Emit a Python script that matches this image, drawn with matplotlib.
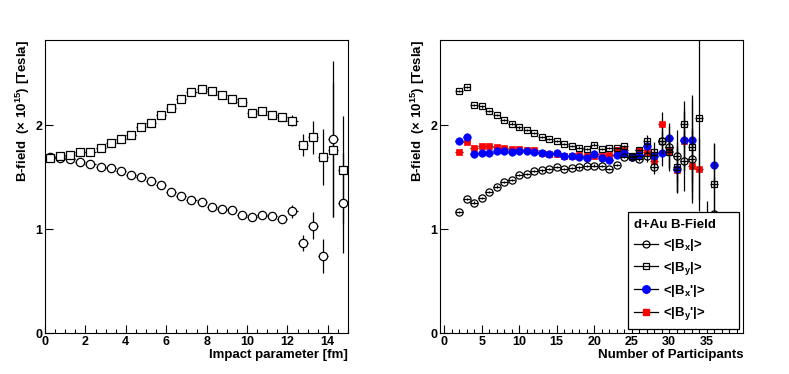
import numpy as np
import matplotlib
matplotlib.use("Agg")
import matplotlib.pyplot as plt
from matplotlib.lines import Line2D
from matplotlib.ticker import MultipleLocator

plt.rcParams['font.family'] = ['Liberation Sans', 'DejaVu Sans']
plt.rcParams['font.weight'] = 'bold'
plt.rcParams['mathtext.fontset'] = 'custom'
plt.rcParams['mathtext.rm'] = 'Liberation Sans:bold'
plt.rcParams['mathtext.bf'] = 'Liberation Sans:bold'
plt.rcParams['mathtext.default'] = 'bf'

# --- left panel: vs impact parameter (bins of 0.5 fm) ---
b_centers = [0.25, 0.75, 1.25, 1.75, 2.25, 2.75, 3.25, 3.75, 4.25, 4.75,
             5.25, 5.75, 6.25, 6.75, 7.25, 7.75, 8.25, 8.75, 9.25, 9.75,
             10.25, 10.75, 11.25, 11.75, 12.25, 12.75, 13.25, 13.75, 14.25, 14.75]
bx_b = [1.69, 1.68, 1.67, 1.65, 1.625, 1.60, 1.585, 1.56, 1.52, 1.50,
        1.46, 1.42, 1.36, 1.32, 1.28, 1.26, 1.21, 1.19, 1.18, 1.14,
        1.115, 1.135, 1.13, 1.10, 1.17, 0.865, 1.03, 0.74, 1.87, 1.25]
bx_b_err = [0.005, 0.005, 0.005, 0.005, 0.005, 0.005, 0.005, 0.005, 0.005, 0.005,
            0.005, 0.005, 0.005, 0.005, 0.005, 0.005, 0.005, 0.01, 0.01, 0.01,
            0.01, 0.015, 0.015, 0.02, 0.06, 0.08, 0.13, 0.16, 0.75, 0.48]
by_b = [1.68, 1.705, 1.71, 1.74, 1.745, 1.78, 1.83, 1.865, 1.91, 1.98,
        2.02, 2.10, 2.17, 2.25, 2.315, 2.345, 2.33, 2.29, 2.25, 2.22,
        2.12, 2.14, 2.10, 2.08, 2.045, 1.81, 1.885, 1.695, 1.765, 1.57]
by_b_err = [0.005, 0.005, 0.005, 0.005, 0.005, 0.005, 0.005, 0.005, 0.005, 0.005,
            0.005, 0.005, 0.005, 0.005, 0.005, 0.005, 0.005, 0.01, 0.01, 0.01,
            0.01, 0.015, 0.02, 0.03, 0.05, 0.11, 0.16, 0.27, 0.65, 0.52]

# --- right panel: vs number of participants ---
npart_bx = [2, 3, 4, 5, 6, 7, 8, 9, 10, 11, 12, 13, 14, 15, 16, 17, 18, 19,
            20, 21, 22, 23, 24, 25, 26, 27, 28, 29, 30, 31, 32, 33, 35, 36]
bx_n = [1.163, 1.29, 1.256, 1.30, 1.356, 1.41, 1.45, 1.47, 1.52, 1.53, 1.558,
        1.564, 1.574, 1.596, 1.58, 1.59, 1.593, 1.603, 1.612, 1.603, 1.58,
        1.62, 1.69, 1.69, 1.67, 1.70, 1.60, 1.845, 1.79, 1.70, 1.66, 1.67,
        0.95, 1.15]
bx_n_err = [0.01] * 25 + [0.05, 0.07, 0.1, 0.2, 0.25, 0.29, 0.3, 0.32, 0.35]

npart_by = [2, 3, 4, 5, 6, 7, 8, 9, 10, 11, 12, 13, 14, 15, 16, 17, 18, 19,
            20, 21, 22, 23, 24, 25, 26, 27, 28, 29, 30, 31, 32, 33, 34, 36]
by_n = [2.33, 2.365, 2.19, 2.18, 2.14, 2.10, 2.05, 2.016, 1.978, 1.955, 1.926,
        1.89, 1.87, 1.85, 1.817, 1.80, 1.785, 1.77, 1.814, 1.77, 1.78, 1.78,
        1.795, 1.70, 1.76, 1.85, 1.74, 1.85, 1.74, 1.60, 2.01, 1.79, 2.07, 1.43]
by_n_err = [0.01] * 25 + [0.06, 0.1, 0.13, 0.18, 0.24, 0.22, 0.5, 0.9, 0.4]

npart_bxp = [2, 3, 4, 5, 6, 7, 8, 9, 10, 11, 12, 13, 14, 15, 16, 17, 18, 19,
             20, 21, 22, 23, 24, 25, 26, 27, 28, 29, 30, 31, 32, 33, 36]
bxp_n = [1.85, 1.89, 1.72, 1.734, 1.734, 1.747, 1.747, 1.744, 1.753, 1.747,
         1.74, 1.728, 1.72, 1.728, 1.70, 1.70, 1.69, 1.683, 1.718, 1.686,
         1.667, 1.71, 1.737, 1.695, 1.71, 1.795, 1.70, 1.73, 1.88, 1.58,
         1.856, 1.856, 1.615]
bxp_n_err = [0.01] * 25 + [0.05, 0.07, 0.12, 0.14, 0.22, 0.3, 0.4, 0.2]

npart_byp = [2, 3, 4, 5, 6, 7, 8, 9, 10, 11, 12, 13, 14, 15, 16, 17, 18, 19,
             20, 21, 22, 23, 24, 25, 26, 27, 28, 29, 30, 31, 32, 33, 34]
byp_n = [1.744, 1.84, 1.78, 1.80, 1.795, 1.79, 1.78, 1.775, 1.772, 1.766,
         1.76, 1.73, 1.72, 1.72, 1.705, 1.705, 1.71, 1.708, 1.70, 1.708,
         1.71, 1.76, 1.766, 1.695, 1.763, 1.74, 1.657, 2.01, 1.756, 1.565,
         1.85, 1.606, 1.58]
byp_n_err = [0.01] * 25 + [0.05, 0.08, 0.12, 0.17, 0.22, 0.28, 0.35, 0.3]

ylabel = r"B-field  ($\times$ 10$^{15}$) [Tesla]"

fig = plt.figure(figsize=(7.89, 3.74), dpi=100)
W, H = 789.0, 374.0
ax1 = fig.add_axes([45 / W, 1 - 333 / H, 303 / W, 293 / H])
ax2 = fig.add_axes([440 / W, 1 - 333 / H, 303 / W, 293 / H])

for ax in (ax1, ax2):
    ax.set_ylim(0, 2.82)
    ax.yaxis.set_major_locator(MultipleLocator(1))
    ax.tick_params(axis='both', which='both', direction='in', top=False,
                   right=False, labelsize=9, pad=2, width=0.8)
    ax.tick_params(axis='y', which='major', length=6)
    ax.tick_params(axis='x', which='major', length=6)
    ax.tick_params(axis='x', which='minor', length=3)
    for s in ax.spines.values():
        s.set_linewidth(0.8)
    for lab in ax.get_xticklabels() + ax.get_yticklabels():
        lab.set_fontweight('bold')

# left panel
ax1.set_xlim(0, 15)
ax1.xaxis.set_major_locator(MultipleLocator(2))
ax1.xaxis.set_minor_locator(MultipleLocator(0.5))
ax1.errorbar(b_centers, bx_b, yerr=bx_b_err, xerr=0.25, fmt='o', ms=6,
             mfc='white', mec='black', mew=0.9, ecolor='black', elinewidth=0.9,
             capsize=0)
ax1.errorbar(b_centers, by_b, yerr=by_b_err, xerr=0.25, fmt='s', ms=6,
             mfc='white', mec='black', mew=0.9, ecolor='black', elinewidth=0.9,
             capsize=0)

# right panel
ax2.set_xlim(-0.56, 39.84)
ax2.xaxis.set_major_locator(MultipleLocator(5))
ax2.xaxis.set_minor_locator(MultipleLocator(1))
ax2.errorbar(npart_byp, byp_n, yerr=byp_n_err, xerr=0.5, fmt='s', ms=5,
             mfc='red', mec='red', mew=0.5, ecolor='black', elinewidth=0.9,
             capsize=0, zorder=2)
ax2.errorbar(npart_bxp, bxp_n, yerr=bxp_n_err, xerr=0.5, fmt='o', ms=5.4,
             mfc='blue', mec='blue', mew=0.5, ecolor='black', elinewidth=0.9,
             capsize=0, zorder=2.2)
ax2.errorbar(npart_bx, bx_n, yerr=bx_n_err, xerr=0.5, fmt='o', ms=5.2,
             mfc='none', mec='black', mew=0.9, ecolor='black', elinewidth=0.9,
             capsize=0, zorder=2.4)
ax2.errorbar(npart_by, by_n, yerr=by_n_err, xerr=0.5, fmt='s', ms=5,
             mfc='none', mec='black', mew=0.9, ecolor='black', elinewidth=0.9,
             capsize=0, zorder=2.6)

handles = [
    Line2D([], [], color='black', lw=0.9, marker='o', ms=5, mfc='none', mec='black', mew=0.9),
    Line2D([], [], color='black', lw=0.9, marker='s', ms=5, mfc='none', mec='black', mew=0.9),
    Line2D([], [], color='black', lw=0.9, marker='o', ms=5.4, mfc='blue', mec='blue'),
    Line2D([], [], color='black', lw=0.9, marker='s', ms=5, mfc='red', mec='red'),
]
labels = [r"<|B$_x$|>", r"<|B$_y$|>", r"<|B$_x$'|>", r"<|B$_y$'|>"]
leg = ax2.legend(handles, labels, title="d+Au B-Field", loc='lower left',
                 bbox_to_anchor=(0.62, 0.0137, 0.366, 0.39), mode='expand',
                 fancybox=False, framealpha=1, edgecolor='black',
                 fontsize=9.5, title_fontproperties={'weight': 'bold', 'size': 9.5},
                 handlelength=1.8, handletextpad=0.4, labelspacing=0.48,
                 borderpad=0.5, borderaxespad=0)
leg._legend_box.align = 'left'
leg.get_frame().set_linewidth(0.9)
leg.set_zorder(5)

# axis titles (ROOT style: right/top aligned)
fig.text(348 / W, 1 - 355 / H, "Impact parameter [fm]", ha='right', va='center',
         fontsize=9.5, fontweight='bold')
fig.text(743 / W, 1 - 355 / H, "Number of Participants", ha='right', va='center',
         fontsize=9.5, fontweight='bold')
fig.text(23 / W, 1 - 40 / H, ylabel, rotation=90, ha='center', va='top',
         fontsize=9.5, fontweight='bold')
fig.text(418 / W, 1 - 40 / H, ylabel, rotation=90, ha='center', va='top',
         fontsize=9.5, fontweight='bold')

fig.savefig("out.png", dpi=100)
